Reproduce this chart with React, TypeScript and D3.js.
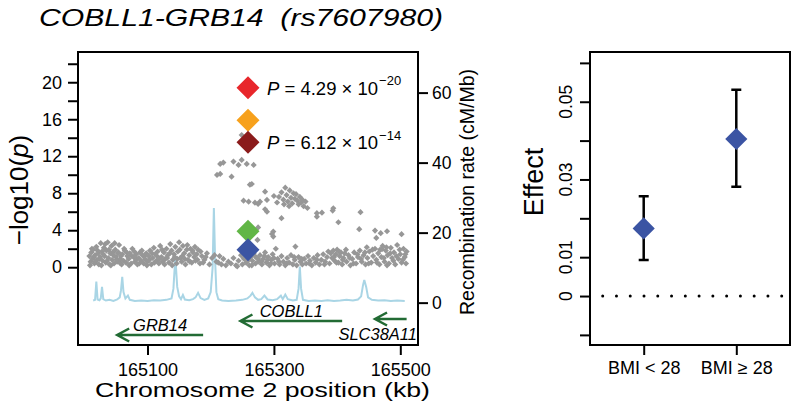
import * as d3 from 'd3';
import { useEffect, useRef } from 'react';

// SNP association, [position (kb), -log10(p)]
const snpLeft: [number, number][] = [
  [165008, 1.2], [165009, 0.2], [165010, 0.6], [165011, 1.6], [165012, 2.0], [165013, 0.9], [165014, 1.9], [165015, 1.1],
  [165016, 0.4], [165017, 1.3], [165018, 0.6], [165019, 2.2], [165020, 0.8], [165021, 1.8], [165022, 1.5], [165023, 0.3],
  [165024, 0.9], [165025, 1.1], [165026, 2.6], [165027, 0.2], [165028, 1.7], [165029, 0.7], [165030, 1.4], [165031, 2.1],
  [165032, 1.2], [165033, 2.5], [165034, 0.5], [165035, 1.8], [165036, 0.7], [165037, 2.7], [165038, 1.0], [165039, 1.9],
  [165040, 0.3], [165041, 1.5], [165042, 0.2], [165043, 2.3], [165044, 0.8], [165045, 1.6], [165046, 1.3], [165047, 0.4],
  [165048, 2.6], [165049, 1.9], [165050, 1.1], [165051, 0.8], [165052, 0.6], [165053, 1.5], [165054, 1.6], [165055, 2.4],
  [165056, 0.5], [165057, 0.9], [165058, 1.2], [165059, 0.3], [165060, 1.4], [165062, 0.7], [165063, 2.0], [165064, 1.8],
  [165066, 0.5], [165067, 1.6], [165068, 1.2], [165070, 0.9], [165071, 0.2], [165072, 1.5], [165074, 0.4], [165075, 1.2],
  [165076, 2.0], [165078, 1.1], [165079, 1.7], [165080, 0.6], [165082, 1.4], [165083, 0.9], [165084, 0.3], [165086, 1.0],
  [165087, 0.4], [165088, 1.6], [165090, 0.7], [165091, 1.8], [165092, 1.3], [165094, 0.4], [165095, 1.2], [165096, 0.9],
  [165098, 1.5], [165099, 0.2], [165100, 0.6], [165102, 1.2], [165103, 0.8], [165104, 1.8], [165106, 0.3], [165107, 1.5],
  [165108, 1.0], [165110, 2.1], [165111, 0.5], [165112, 1.4], [165114, 0.7], [165115, 1.2], [165116, 1.7], [165118, 0.4],
  [165119, 0.9], [165120, 2.3], [165122, 1.1], [165123, 1.9], [165124, 0.6], [165126, 1.6], [165127, 0.3], [165128, 0.9],
  [165130, 2.0], [165131, 1.0], [165132, 1.3], [165134, 0.5], [165135, 1.5], [165136, 2.5], [165138, 1.8], [165139, 0.2],
  [165140, 0.8], [165142, 1.4], [165143, 1.1], [165144, 2.2], [165146, 0.4], [165147, 0.9], [165148, 1.7], [165150, 2.7],
  [165151, 1.9], [165152, 1.0], [165154, 0.6], [165155, 1.2], [165156, 2.3], [165158, 1.5], [165159, 0.9], [165160, 0.3],
  [165162, 1.9], [165163, 2.4], [165164, 0.8], [165166, 1.3], [165167, 0.6], [165168, 2.0], [165170, 0.5], [165171, 1.8],
  [165172, 1.6], [165174, 1.1], [165175, 2.2], [165176, 0.7], [165178, 1.4], [165179, 0.8], [165180, 1.9], [165183, 0.4],
  [165184, 1.7], [165186, 1.2], [165188, 0.5], [165190, 0.8], [165192, 1.1], [165194, 1.5], [165198, 0.3], [165202, 1.0],
];

const snpRight: [number, number][] = [
  [165206, 1.3], [165209, 0.6], [165212, 0.5], [165214, 1.2], [165217, 0.3], [165220, 0.9], [165224, 0.2], [165228, 0.6],
  [165232, 0.4], [165236, 1.0], [165240, 0.2], [165242, 0.1], [165244, 0.7], [165248, 1.3], [165250, 0.3], [165252, 1.0],
  [165253, 0.9], [165256, 0.5], [165258, 1.4], [165260, 0.8], [165261, 0.2], [165263, 1.1], [165265, 0.2], [165266, 0.7],
  [165268, 1.5], [165270, 1.2], [165271, 0.4], [165273, 1.0], [165275, 0.9], [165276, 0.6], [165278, 1.3], [165280, 0.6],
  [165281, 0.3], [165283, 0.9], [165285, 1.2], [165286, 1.6], [165288, 0.5], [165290, 0.8], [165291, 1.1], [165293, 0.2],
  [165295, 0.4], [165296, 0.8], [165298, 1.4], [165300, 1.0], [165301, 0.4], [165303, 2.0], [165306, 0.9], [165308, 0.6],
  [165309, 0.3], [165312, 1.2], [165315, 0.6], [165318, 0.2], [165320, 0.4], [165321, 1.0], [165324, 0.5], [165327, 1.3],
  [165330, 0.3], [165332, 1.1], [165333, 0.8], [165336, 0.2], [165339, 1.1], [165342, 0.6], [165344, 0.9], [165345, 0.3],
  [165348, 0.9], [165351, 0.4], [165354, 1.2], [165356, 0.4], [165357, 0.7], [165360, 0.2], [165363, 1.0], [165366, 0.5],
  [165368, 0.8], [165369, 1.3], [165372, 0.3], [165375, 0.8], [165378, 1.4], [165380, 0.3], [165381, 0.6], [165384, 1.1],
  [165386, 1.7], [165388, 0.4], [165390, 1.5], [165392, 1.0], [165394, 1.8], [165395, 1.1], [165396, 0.7], [165398, 1.4],
  [165399, 0.5], [165400, 1.9], [165402, 0.5], [165403, 1.7], [165404, 1.2], [165406, 1.6], [165408, 0.3], [165409, 0.8],
  [165410, 1.0], [165412, 1.5], [165414, 1.9], [165415, 0.6], [165418, 1.3], [165420, 1.0], [165421, 0.2], [165424, 0.9],
  [165426, 0.4], [165427, 1.6], [165430, 0.4], [165432, 1.4], [165433, 1.1], [165436, 1.8], [165438, 0.9], [165439, 0.6],
  [165442, 1.3], [165444, 1.6], [165445, 0.3], [165448, 1.0], [165450, 0.4], [165451, 1.7], [165454, 0.5], [165456, 1.9],
  [165457, 1.2], [165460, 2.0], [165462, 0.8], [165463, 0.5], [165465, 1.5], [165467, 0.3], [165468, 1.9], [165470, 1.1],
  [165472, 2.3], [165474, 1.0], [165475, 0.6], [165477, 1.8], [165479, 0.2], [165480, 1.3], [165482, 0.4], [165484, 1.5],
  [165485, 2.1], [165487, 1.0], [165489, 0.7], [165490, 1.6], [165492, 0.3], [165494, 1.2], [165495, 2.4], [165497, 0.9],
  [165499, 1.9], [165500, 1.4], [165502, 0.5], [165504, 0.8], [165505, 2.0], [165507, 1.1], [165508, 1.4], [165509, 0.4],
  [165510, 1.7],
];

const snpSignal: [number, number][] = [
  [165249, 14.3], [165215, 11.17], [165220, 11.31], [165236, 11.42], [165244, 11.06], [165249, 11.6], [165257, 11.17],
  [165268, 11.06], [165210, 9.98], [165215, 10.09], [165233, 9.79], [165262, 8.93], [165265, 9.0], [165286, 8.17],
  [165252, 7.2], [165260, 7.09], [165270, 6.98], [165275, 6.84], [165278, 7.09], [165289, 7.28], [165286, 6.27],
  [165289, 6.01], [165312, 5.3], [165299, 3.85], [165299, 3.31], [165275, 4.3], [165274, 2.95], [165297, 3.6],
  [165334, 2.23], [165300, 7.7], [165305, 7.0], [165308, 7.6], [165312, 8.1], [165315, 7.3], [165316, 6.8],
  [165318, 8.6], [165320, 7.8], [165322, 7.1], [165324, 6.6], [165325, 8.3], [165327, 7.5], [165329, 6.9],
  [165331, 8.0], [165333, 7.4], [165335, 7.9], [165337, 7.2], [165339, 6.8], [165341, 7.6], [165343, 7.0],
  [165345, 7.3], [165347, 6.6], [165350, 7.1], [165353, 6.4], [165368, 5.84], [165376, 5.9], [165368, 5.47],
  [165394, 6.38], [165393, 6.12], [165402, 4.86], [165437, 5.95], [165435, 4.11], [165460, 3.96], [165469, 3.68],
  [165479, 3.89], [165462, 3.17], [165502, 3.57], [165447, 2.16], [165471, 1.95], [165478, 2.16],
];

// index SNP rs7607980 in the different analyses
const leadPos = 165259;
const leadLogP = [19.4, 15.9, 13.5, 3.9, 1.9];
const leadPValue = ['4.29', '', '6.12', '', ''];
const leadPExp = ['−20', '', '−14', '', ''];
const leadColors = ['#e8262b', '#f7a11c', '#8b1b1b', '#61b646', '#3b54a3'];

// recombination rate, [position (kb), cM/Mb]
const recomb: [number, number][] = [
  [165014, 0.6], [165017, 0.8], [165019, 6.0], [165021, 0.9], [165024, 0.7], [165026, 1.2], [165028, 4.5], [165030, 1.0],
  [165034, 0.6], [165040, 0.8], [165046, 0.5], [165052, 0.9], [165056, 1.5], [165058, 3.5], [165060, 7.4], [165062, 3.0],
  [165065, 1.2], [165069, 2.0], [165072, 0.8], [165080, 0.5], [165090, 0.6], [165100, 0.5], [165110, 0.7], [165120, 0.6],
  [165130, 0.8], [165138, 1.2], [165141, 4.0], [165144, 13.0], [165147, 4.5], [165150, 1.8], [165153, 1.0], [165156, 2.2],
  [165159, 0.9], [165166, 0.7], [165172, 1.0], [165176, 1.5], [165180, 2.8], [165184, 1.3], [165190, 0.8], [165196, 1.2],
  [165200, 3.0], [165203, 10.0], [165205, 27.0], [165207, 12.0], [165209, 3.0], [165212, 1.0], [165218, 0.6], [165228, 0.5],
  [165240, 0.6], [165250, 0.8], [165258, 1.2], [165263, 2.0], [165266, 2.8], [165270, 1.5], [165275, 0.8], [165280, 1.0],
  [165285, 2.0], [165290, 0.9], [165298, 0.7], [165305, 1.0], [165311, 2.0], [165314, 1.0], [165318, 2.3], [165322, 1.0],
  [165330, 0.6], [165336, 0.8], [165339, 4.0], [165341, 10.3], [165343, 4.0], [165346, 0.8], [165355, 0.5], [165365, 0.6],
  [165375, 0.5], [165385, 0.7], [165395, 0.5], [165405, 0.6], [165415, 0.8], [165425, 0.6], [165433, 0.9], [165438, 1.8],
  [165441, 5.0], [165443, 6.5], [165446, 4.5], [165449, 1.5], [165455, 0.8], [165465, 0.6], [165475, 0.7], [165485, 0.5],
  [165495, 0.6], [165507, 0.5],
];

const geneNames = ['GRB14', 'COBLL1', 'SLC38A11'];
const geneStart = [165052, 165247, 165460];
const geneEnd = [165188, 165408, 165510];

const posTicks = [165100, 165300, 165500];
const logpTicks = [0, 2, 4, 6, 8, 10, 12, 14, 16, 18, 20, 22];
const logpLabels = [0, 4, 8, 12, 16, 20];
const recombTicks = [0, 20, 40, 60];

// effect by BMI stratum
const groups = ['BMI < 28', 'BMI ≥ 28'];
const effect = [0.0174, 0.0404];
const effectLo = [0.0093, 0.0281];
const effectHi = [0.0257, 0.0531];
const effectTicks = [-0.01, 0, 0.01, 0.02, 0.03, 0.04, 0.05, 0.06];
const effectLabels = [0, 0.01, 0.03, 0.05];

function LocusFigure() {
  const svgRef = useRef<SVGSVGElement>(null);

  useEffect(() => {
    if (!svgRef.current) return;
    const svg = d3.select(svgRef.current);
    svg.selectAll('*').remove();
    svg.attr('font-family', '"Liberation Sans", Arial, Helvetica, sans-serif');

    const box = { left: 78, right: 418, top: 52, bottom: 345 };
    const x = d3.scaleLinear().domain([164990, 165528]).range([box.left, box.right]);
    const y = d3.scaleLinear().domain([-8.41, 23.27]).range([box.bottom, box.top]);
    const yr = d3.scaleLinear().domain([-12.1, 71.6]).range([box.bottom, box.top]);

    const diamond = (area: number) => d3.symbol(d3.symbolSquare, area)();

    // title
    svg.append('text')
      .attr('x', 39).attr('y', 26)
      .attr('font-size', 24).attr('font-style', 'italic')
      .attr('textLength', 404).attr('lengthAdjust', 'spacingAndGlyphs')
      .attr('xml:space', 'preserve')
      .text('COBLL1-GRB14  (rs7607980)');

    // recombination rate
    const line = d3.line<[number, number]>().x(d => x(d[0])).y(d => yr(d[1]));
    svg.append('path')
      .datum(recomb)
      .attr('d', line)
      .attr('fill', 'none')
      .attr('stroke', '#a9d5e5')
      .attr('stroke-width', 2);

    // snps
    svg.append('g')
      .selectAll('path')
      .data([...snpLeft, ...snpRight, ...snpSignal])
      .enter().append('path')
      .attr('d', diamond(19))
      .attr('transform', d => `translate(${x(d[0])},${y(d[1])}) rotate(45)`)
      .attr('fill', '#979797');

    svg.append('g')
      .selectAll('path')
      .data(leadLogP)
      .enter().append('path')
      .attr('d', diamond(265))
      .attr('transform', d => `translate(${x(leadPos)},${y(d)}) rotate(45)`)
      .attr('fill', (d, i) => leadColors[i]);

    leadLogP.forEach((v, i) => {
      if (!leadPValue[i]) return;
      const t = svg.append('text')
        .attr('x', x(leadPos) + 19).attr('y', y(v) + 7)
        .attr('font-size', 18.5);
      t.append('tspan').attr('font-style', 'italic').text('P');
      t.append('tspan').text(` = ${leadPValue[i]} × 10`);
      t.append('tspan').attr('font-size', 13).attr('dy', -9.5).attr('dx', 1).text(leadPExp[i]);
    });

    // genes
    const geneY = [335, 321, 319];
    const green = '#226b34';
    geneNames.forEach((name, i) => {
      const x0 = x(geneStart[i]);
      const x1 = x(geneEnd[i]);
      const gy = geneY[i];
      svg.append('path')
        .attr('d', `M${x1},${gy}H${x0}M${x0 + 12},${gy - 6.5}L${x0},${gy}L${x0 + 12},${gy + 6.5}`)
        .attr('fill', 'none')
        .attr('stroke', green)
        .attr('stroke-width', 2.5);
      const label = svg.append('text')
        .attr('font-size', 16.5).attr('font-style', 'italic')
        .text(name);
      if (i === 2) {
        label.attr('x', box.right - 1).attr('y', gy + 21).attr('text-anchor', 'end');
      } else {
        label.attr('x', (x0 + x1) / 2).attr('y', gy - 4).attr('text-anchor', 'middle');
      }
    });

    // frame and axes
    svg.append('rect')
      .attr('x', box.left).attr('y', box.top)
      .attr('width', box.right - box.left).attr('height', box.bottom - box.top)
      .attr('fill', 'none').attr('stroke', '#000').attr('stroke-width', 2);

    const styleAxis = (g: any, size: number) => {
      g.attr('font-family', null).attr('font-size', null);
      g.select('.domain').remove();
      g.selectAll('.tick line').attr('stroke', '#000').attr('stroke-width', 2);
      g.selectAll('.tick text').attr('fill', '#000').attr('font-size', size);
    };

    svg.append('g')
      .attr('transform', `translate(${box.left},0)`)
      .call(d3.axisLeft(y).tickValues(logpTicks).tickSize(10).tickPadding(6)
        .tickFormat(d => (logpLabels.includes(+d) ? String(d) : '')))
      .call(g => styleAxis(g, 18));

    svg.append('g')
      .attr('transform', `translate(${box.right},0)`)
      .call(d3.axisRight(yr).tickValues(recombTicks).tickSize(10).tickPadding(4))
      .call(g => styleAxis(g, 17.5));

    svg.append('g')
      .attr('transform', `translate(0,${box.bottom})`)
      .call(d3.axisBottom(x).tickValues(posTicks).tickSize(10).tickPadding(8).tickFormat(d => String(d)))
      .call(g => styleAxis(g, 18));

    const yLabel = svg.append('text')
      .attr('transform', 'translate(28,190) rotate(-90)')
      .attr('text-anchor', 'middle').attr('font-size', 26);
    yLabel.append('tspan').text('−log10(');
    yLabel.append('tspan').attr('font-style', 'italic').text('p');
    yLabel.append('tspan').text(')');

    svg.append('text')
      .attr('transform', 'translate(474,192) rotate(-90)')
      .attr('text-anchor', 'middle').attr('font-size', 19.5)
      .attr('fill', '#000')
      .text('Recombination rate (cM/Mb)');

    svg.append('text')
      .attr('x', 95).attr('y', 397)
      .attr('font-size', 21)
      .attr('textLength', 335).attr('lengthAdjust', 'spacingAndGlyphs')
      .text('Chromosome 2 position (kb)');

    // effect panel
    const box2 = { left: 590, right: 790, top: 52, bottom: 345 };
    const x2 = d3.scaleLinear().domain([0.42, 2.58]).range([box2.left, box2.right]);
    const y2 = d3.scaleLinear().domain([-0.0126, 0.0628]).range([box2.bottom, box2.top]);

    svg.append('line')
      .attr('x1', 602.7).attr('x2', box2.right)
      .attr('y1', y2(0)).attr('y2', y2(0))
      .attr('stroke', '#000').attr('stroke-width', 3)
      .attr('stroke-linecap', 'round')
      .attr('stroke-dasharray', '0 13.77');

    groups.forEach((g, i) => {
      const cx = x2(i + 1);
      svg.append('path')
        .attr('d', `M${cx},${y2(effectLo[i])}V${y2(effectHi[i])}M${cx - 5},${y2(effectLo[i])}H${cx + 5}M${cx - 5},${y2(effectHi[i])}H${cx + 5}`)
        .attr('stroke', '#000').attr('stroke-width', 2.5).attr('fill', 'none');
      svg.append('path')
        .attr('d', diamond(245))
        .attr('transform', `translate(${cx},${y2(effect[i])}) rotate(45)`)
        .attr('fill', '#3b54a3');
    });

    svg.append('rect')
      .attr('x', box2.left).attr('y', box2.top)
      .attr('width', box2.right - box2.left).attr('height', box2.bottom - box2.top)
      .attr('fill', 'none').attr('stroke', '#000').attr('stroke-width', 2);

    svg.append('g')
      .attr('transform', `translate(${box2.left},0)`)
      .call(d3.axisLeft(y2).tickValues(effectTicks).tickSize(10).tickFormat(() => ''))
      .call(g => styleAxis(g, 17));

    svg.append('g')
      .selectAll('text')
      .data(effectLabels)
      .enter().append('text')
      .attr('transform', d => `translate(572,${y2(d)}) rotate(-90)`)
      .attr('text-anchor', 'middle').attr('font-size', 17.5)
      .text(d => String(d));

    svg.append('g')
      .attr('transform', `translate(0,${box2.bottom})`)
      .call(d3.axisBottom(x2).tickValues([1, 2]).tickSize(10).tickPadding(6)
        .tickFormat(d => groups[+d - 1]))
      .call(g => styleAxis(g, 18));

    svg.append('text')
      .attr('transform', 'translate(543,182) rotate(-90)')
      .attr('text-anchor', 'middle').attr('font-size', 27)
      .text('Effect');

    return () => {
      d3.select(svgRef.current).selectAll('*').remove();
    };
  }, []);

  return <svg ref={svgRef} width={800} height={420} style={{ position: 'absolute', left: 0, top: 0, background: '#fff' }} />;
}

export default function App() {
  return <LocusFigure />;
}
